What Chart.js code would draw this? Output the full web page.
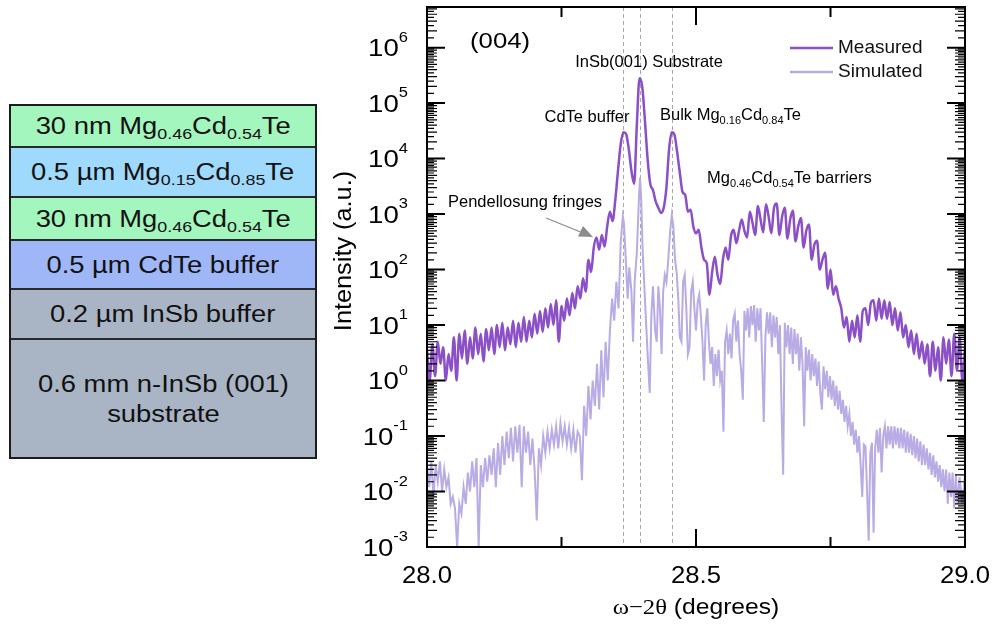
<!DOCTYPE html>
<html>
<head>
<meta charset="utf-8">
<script src="https://cdn.jsdelivr.net/npm/chart.js@4.4.1/dist/chart.umd.min.js"></script>
<style>
  html, body { margin: 0; padding: 0; background: #fff; }
  body { width: 993px; height: 628px; position: relative; overflow: hidden; font-family: "Liberation Sans", Arial, sans-serif; }
  #stack { position: absolute; left: 9px; top: 104px; width: 308px; height: 355px; border: 2px solid #1c1c1c; box-sizing: border-box; }
  .layer { position: absolute; left: 0; right: 0; display: flex; align-items: center; justify-content: center; border-bottom: 2px solid #2a2a2a; box-sizing: border-box; color: #111; font-size: 23px; line-height: 30px; text-align: center; }
  .layer span.t { display: inline-block; transform: scaleX(1.19); white-space: nowrap; }
  .layer sub { font-size: 15px; vertical-align: -5px; line-height: 0; }
  #chartBox { position: absolute; left: 330px; top: 0; width: 663px; height: 628px; }
</style>
</head>
<body>
<div id="stack">
  <div class="layer" style="top:0;height:42px;background:#a3f6bd"><span class="t">30 nm Mg<sub>0.46</sub>Cd<sub>0.54</sub>Te</span></div>
  <div class="layer" style="top:42px;height:50px;background:#9fd9fb"><span class="t">0.5 µm Mg<sub>0.15</sub>Cd<sub>0.85</sub>Te</span></div>
  <div class="layer" style="top:92px;height:43px;background:#a3f6bd"><span class="t">30 nm Mg<sub>0.46</sub>Cd<sub>0.54</sub>Te</span></div>
  <div class="layer" style="top:135px;height:49px;background:#9fb7f7"><span class="t">0.5 µm CdTe buffer</span></div>
  <div class="layer" style="top:184px;height:50px;background:#a9b4c4"><span class="t">0.2 µm InSb buffer</span></div>
  <div class="layer" style="top:234px;height:117px;background:#a9b4c4;border-bottom:none"><span class="t">0.6 mm n-InSb (001)<br>substrate</span></div>
</div>
<div id="chartBox"><canvas id="xrd"></canvas></div>
<script>
// ω-2θ scan (004)
const measX = [
  28.000, 28.005, 28.010, 28.015, 28.020, 28.025, 28.030, 28.035, 28.040, 28.045,
  28.050, 28.055, 28.060, 28.065, 28.070, 28.075, 28.080, 28.085, 28.090, 28.095,
  28.100, 28.105, 28.110, 28.115, 28.120, 28.125, 28.130, 28.135, 28.140, 28.145,
  28.150, 28.155, 28.160, 28.165, 28.170, 28.175, 28.180, 28.185, 28.190, 28.195,
  28.200, 28.205, 28.210, 28.215, 28.220, 28.225, 28.230, 28.235, 28.240, 28.245,
  28.250, 28.255, 28.260, 28.265, 28.270, 28.275, 28.280, 28.285, 28.290, 28.295,
  28.300, 28.305, 28.310, 28.315, 28.320, 28.325, 28.330, 28.335, 28.340, 28.345,
  28.350, 28.355, 28.360, 28.365, 28.370, 28.375, 28.380, 28.385, 28.390, 28.395,
  28.400, 28.405, 28.410, 28.415, 28.420, 28.425, 28.430, 28.435, 28.440, 28.445,
  28.450, 28.455, 28.460, 28.465, 28.470, 28.475, 28.480, 28.485, 28.490, 28.495,
  28.500, 28.505, 28.510, 28.515, 28.520, 28.525, 28.530, 28.535, 28.540, 28.545,
  28.550, 28.555, 28.560, 28.565, 28.570, 28.575, 28.580, 28.585, 28.590, 28.595,
  28.600, 28.605, 28.610, 28.615, 28.620, 28.625, 28.630, 28.635, 28.640, 28.645,
  28.650, 28.655, 28.660, 28.665, 28.670, 28.675, 28.680, 28.685, 28.690, 28.695,
  28.700, 28.705, 28.710, 28.715, 28.720, 28.725, 28.730, 28.735, 28.740, 28.745,
  28.750, 28.755, 28.760, 28.765, 28.770, 28.775, 28.780, 28.785, 28.790, 28.795,
  28.800, 28.805, 28.810, 28.815, 28.820, 28.825, 28.830, 28.835, 28.840, 28.845,
  28.850, 28.855, 28.860, 28.865, 28.870, 28.875, 28.880, 28.885, 28.890, 28.895,
  28.900, 28.905, 28.910, 28.915, 28.920, 28.925, 28.930, 28.935, 28.940, 28.945,
  28.950, 28.955, 28.960, 28.965, 28.970, 28.975, 28.980, 28.985, 28.990, 28.995,
  29.000
];
const measY = [
  3.5, 1.0, 4.5, 1.2, 5.0, 2.0, 4.0, 1.0, 3.0, 1.5,
  6.0, 1.0, 7.0, 2.5, 8.0, 2.0, 6.0, 2.5, 9.0, 3.0,
  7.0, 2.2, 8.5, 3.5, 9.0, 3.0, 10, 4.0, 11, 3.5,
  9, 4.5, 12, 4.0, 11, 5.0, 14, 5.0, 12, 6.0,
  16, 7.0, 18, 7.5, 20, 9, 24, 10, 28, 5,
  22, 12, 30, 15, 38, 20, 50, 30, 70, 40,
  150, 90, 250, 380, 230, 420, 260, 600, 1100, 750,
  1800, 6000, 18000, 30000, 28000, 15000, 6000, 3500, 40000, 280000,
  200000, 50000, 10000, 3500, 2700, 1700, 1300, 1050, 1300, 3000,
  15000, 30000, 27000, 13000, 5500, 2500, 2200, 1100, 1200, 600,
  450, 520, 250, 150, 130, 35, 90, 170, 80, 55,
  150, 250, 150, 400, 520, 300, 500, 800, 500, 380,
  1100, 700, 420, 1400, 800, 470, 1500, 900, 450, 1300,
  1550, 420, 900, 1300, 360, 800, 1150, 320, 600, 850,
  250, 500, 650, 150, 280, 330, 100, 150, 200, 45,
  100, 35, 50, 30, 20, 9, 14, 5, 12, 6,
  15, 5, 18, 20, 10, 25, 28, 12, 30, 13,
  28, 13, 26, 10, 20, 8, 17, 6, 10, 4,
  8, 3, 7, 2.5, 5, 2, 4.5, 1.2, 5, 1.5,
  4, 1.0, 6, 2, 5.5, 1.2, 7, 1.5, 6, 1,
  4
];
const simX = [
  28.000, 28.004, 28.008, 28.012, 28.016, 28.020, 28.024, 28.028, 28.032, 28.036,
  28.040, 28.044, 28.048, 28.052, 28.056, 28.060, 28.064, 28.068, 28.072, 28.076,
  28.080, 28.084, 28.088, 28.092, 28.096, 28.100, 28.104, 28.108, 28.112, 28.116,
  28.120, 28.124, 28.128, 28.132, 28.136, 28.140, 28.144, 28.148, 28.152, 28.156,
  28.160, 28.164, 28.168, 28.172, 28.176, 28.180, 28.184, 28.188, 28.192, 28.196,
  28.200, 28.204, 28.208, 28.212, 28.216, 28.220, 28.224, 28.228, 28.232, 28.236,
  28.240, 28.244, 28.248, 28.252, 28.256, 28.260, 28.264, 28.268, 28.272, 28.276,
  28.280, 28.284, 28.288, 28.292, 28.296, 28.300, 28.304, 28.308, 28.312, 28.316,
  28.320, 28.324, 28.328, 28.332, 28.336, 28.340, 28.344, 28.348, 28.352, 28.356,
  28.360, 28.364, 28.366, 28.370, 28.373, 28.376, 28.380, 28.383, 28.386, 28.390,
  28.394, 28.396, 28.398, 28.401, 28.404, 28.407, 28.411, 28.414, 28.417, 28.420,
  28.424, 28.427, 28.430, 28.433, 28.436, 28.439, 28.442, 28.445, 28.448, 28.452,
  28.455, 28.458, 28.461, 28.464, 28.467, 28.470, 28.473, 28.476, 28.479, 28.482,
  28.485, 28.488, 28.491, 28.494, 28.497, 28.500, 28.503, 28.506, 28.509, 28.512,
  28.515, 28.518, 28.521, 28.524, 28.527, 28.530, 28.533, 28.536, 28.539, 28.542,
  28.545, 28.548, 28.551, 28.554, 28.557, 28.560, 28.563, 28.566, 28.569, 28.572,
  28.575, 28.578, 28.581, 28.584, 28.587, 28.590, 28.593, 28.596, 28.599, 28.602,
  28.605, 28.608, 28.611, 28.614, 28.617, 28.620, 28.623, 28.626, 28.629, 28.632,
  28.635, 28.638, 28.641, 28.644, 28.647, 28.650, 28.653, 28.656, 28.659, 28.662,
  28.665, 28.668, 28.671, 28.674, 28.677, 28.680, 28.683, 28.686, 28.689, 28.692,
  28.695, 28.698, 28.701, 28.704, 28.707, 28.710, 28.713, 28.716, 28.719, 28.722,
  28.725, 28.728, 28.731, 28.734, 28.737, 28.740, 28.743, 28.746, 28.749, 28.752,
  28.755, 28.758, 28.761, 28.764, 28.767, 28.770, 28.773, 28.776, 28.779, 28.782,
  28.785, 28.788, 28.791, 28.794, 28.797, 28.800, 28.803, 28.806, 28.809, 28.812,
  28.815, 28.818, 28.821, 28.824, 28.827, 28.830, 28.833, 28.836, 28.839, 28.842,
  28.845, 28.848, 28.851, 28.854, 28.857, 28.860, 28.863, 28.866, 28.869, 28.872,
  28.875, 28.878, 28.881, 28.884, 28.887, 28.890, 28.893, 28.896, 28.899, 28.902,
  28.905, 28.908, 28.911, 28.914, 28.917, 28.920, 28.923, 28.926, 28.929, 28.932,
  28.935, 28.938, 28.941, 28.944, 28.947, 28.950, 28.953, 28.956, 28.959, 28.962,
  28.965, 28.968, 28.971, 28.974, 28.977, 28.980, 28.983, 28.986, 28.990, 28.995,
  29.000
];
const simY = [
  0.03, 0.012, 0.035, 0.008, 0.03, 0.015, 0.035, 0.01, 0.025, 0.012,
  0.018, 0.006, 0.008, 0.005, 0.001, 0.006, 0.004, 0.012, 0.006, 0.022,
  0.01, 0.035, 0.012, 0.04, 0.001, 0.03, 0.012, 0.04, 0.015, 0.045,
  0.02, 0.06, 0.012, 0.075, 0.02, 0.1, 0.03, 0.12, 0.04, 0.14,
  0.035, 0.15, 0.05, 0.16, 0.012, 0.15, 0.05, 0.12, 0.03, 0.09,
  0.025, 0.003, 0.06, 0.03, 0.1, 0.05, 0.12, 0.06, 0.13, 0.07,
  0.15, 0.06, 0.17, 0.08, 0.15, 0.07, 0.14, 0.06, 0.13, 0.05,
  0.12, 0.1, 0.016, 0.35, 0.1, 0.8, 0.2, 1.0, 0.35, 2.0,
  0.3, 3.5, 0.5, 5.0, 1.0, 8, 30, 12, 60, 20,
  300, 900, 700, 120, 30, 110, 40, 5, 60, 200,
  2000, 4500, 2000, 200, 50, 12, 2, 0.6, 15, 50,
  8, 5, 50, 20, 3, 40, 80, 60, 130, 500,
  950, 600, 150, 90, 30, 6, 5, 60, 80, 20,
  3, 4, 40, 60, 20, 8, 25, 35, 15, 5,
  1, 10, 20, 5, 2, 4, 0.8, 3, 1.2, 3.6,
  1.0, 1.5, 0.12, 5, 8, 3, 7, 2.5, 12, 16,
  5, 12, 3, 1.5, 0.45, 18, 8, 20, 6, 22,
  10, 23, 5, 20, 8, 20, 2, 0.18, 6, 17,
  7, 17, 4, 15, 6, 14, 3, 10, 0.3, 0.02,
  11, 4, 10, 3, 9, 2, 8.5, 3, 7, 1.5,
  6, 2, 0.15, 4, 1.5, 3.6, 1.0, 3, 1.2, 2.5,
  0.8, 2.2, 0.6, 0.3, 1.8, 0.7, 1.5, 0.5, 1.2, 0.45,
  1.0, 0.35, 0.8, 0.3, 0.65, 0.25, 0.45, 0.18, 0.35, 0.15,
  0.25, 0.1, 0.18, 0.07, 0.13, 0.05, 0.1, 0.03, 0.008, 0.07,
  0.065, 0.01, 0.0013, 0.05, 0.076, 0.0018, 0.06, 0.13, 0.05, 0.14,
  0.022, 0.1, 0.15, 0.06, 0.15, 0.07, 0.15, 0.06, 0.15, 0.07,
  0.14, 0.06, 0.14, 0.06, 0.13, 0.05, 0.12, 0.05, 0.11, 0.045,
  0.1, 0.04, 0.09, 0.035, 0.08, 0.03, 0.07, 0.03, 0.06, 0.025,
  0.05, 0.02, 0.045, 0.018, 0.035, 0.015, 0.03, 0.012, 0.025, 0.01,
  0.025, 0.006, 0.022, 0.008, 0.022, 0.005, 0.02, 0.006, 0.018, 0.006,
  0.02
];
// posiciones de las líneas punteadas (picos)
const peakLines = [28.364, 28.396, 28.456];
const xTickValues = [28.0, 28.25, 28.5, 28.75, 29.0];
const xTickLabels = ['28.0', '', '28.5', '', '29.0'];
const yDecades = [-3, -2, -1, 0, 1, 2, 3, 4, 5, 6];

const colMeas = '#8b4fc6';
const colSim = '#b9abe4';
const SANS = '"Liberation Sans", Arial, sans-serif';
const OFFSET_X = 330; // el canvas empieza en x=330 de la página

function toPoints(xs, ys) {
  return xs.map((x, i) => ({ x: x, y: ys[i] }));
}

// texto con escala horizontal
function txt(ctx, s, x, y, size, align, sx, family) {
  ctx.save();
  ctx.font = size + 'px ' + (family || SANS);
  ctx.textBaseline = 'middle';
  ctx.textAlign = 'left';
  const w = ctx.measureText(s).width * sx;
  let x0 = x;
  if (align === 'center') x0 = x - w / 2;
  if (align === 'right') x0 = x - w;
  ctx.translate(x0, y);
  ctx.scale(sx, 1);
  ctx.fillText(s, 0, 0);
  ctx.restore();
  return w;
}

// texto con subíndices: parts = [[texto, esSub], ...]
function richText(ctx, parts, x, y, size, subSize, align, sx) {
  ctx.save();
  let total = 0;
  parts.forEach(p => {
    ctx.font = (p[1] ? subSize : size) + 'px ' + SANS;
    total += ctx.measureText(p[0]).width * sx;
  });
  let cx = x;
  if (align === 'center') cx = x - total / 2;
  if (align === 'right') cx = x - total;
  parts.forEach(p => {
    const dy = p[1] ? size * 0.38 : 0;
    cx += txt(ctx, p[0], cx, y + dy, p[1] ? subSize : size, 'left', sx);
  });
  ctx.restore();
}

const decorPlugin = {
  id: 'decor',
  beforeDatasetsDraw(chart) {
    const { ctx, chartArea: a, scales: { x } } = chart;
    ctx.save();
    ctx.strokeStyle = '#a8a8a8';
    ctx.lineWidth = 1;
    ctx.setLineDash([4, 3]);
    peakLines.forEach(v => {
      const px = Math.round(x.getPixelForValue(v)) + 0.5;
      ctx.beginPath();
      ctx.moveTo(px, a.top);
      ctx.lineTo(px, a.bottom);
      ctx.stroke();
    });
    ctx.restore();
  },
  afterDraw(chart) {
    const { ctx, chartArea: a, scales: { x, y } } = chart;
    ctx.save();
    ctx.fillStyle = '#000';
    ctx.strokeStyle = '#000';

    // marco
    ctx.lineWidth = 2;
    ctx.strokeRect(a.left, a.top, a.right - a.left, a.bottom - a.top);

    // ticks eje Y (hacia dentro, ambos lados)
    yDecades.forEach(e => {
      const major = Math.pow(10, e);
      const py = y.getPixelForValue(major);
      ctx.lineWidth = 2;
      ctx.beginPath();
      ctx.moveTo(a.left, py); ctx.lineTo(a.left + 18, py);
      ctx.moveTo(a.right, py); ctx.lineTo(a.right - 18, py);
      ctx.stroke();
      ctx.lineWidth = 1.2;
      for (let k = 1.5; k < 10; k += 0.5) {
        const v = k * major;
        if (v > y.max) continue;
        const pm = y.getPixelForValue(v);
        const len = Number.isInteger(k) ? 10 : 7;
        ctx.beginPath();
        ctx.moveTo(a.left, pm); ctx.lineTo(a.left + len, pm);
        ctx.moveTo(a.right, pm); ctx.lineTo(a.right - len, pm);
        ctx.stroke();
      }
      // etiqueta 10^e
      const sup = String(e);
      ctx.font = '15px ' + SANS;
      const sw = ctx.measureText(sup).width * 1.1;
      const right = a.left - 19;
      txt(ctx, sup, right - sw, py - 10, 15, 'left', 1.1);
      txt(ctx, '10', right - sw, py + 2, 24, 'right', 1.15);
    });

    // ticks eje X
    ctx.lineWidth = 2;
    xTickValues.forEach((v, i) => {
      const px = x.getPixelForValue(v);
      const len = (v === 28.5) ? 18 : 10;
      if (v > 28 && v < 29) {
        ctx.beginPath();
        ctx.moveTo(px, a.bottom); ctx.lineTo(px, a.bottom - len);
        ctx.moveTo(px, a.top); ctx.lineTo(px, a.top + len);
        ctx.stroke();
      }
      if (xTickLabels[i]) txt(ctx, xTickLabels[i], px, a.bottom + 29, 24, 'center', 1.07);
    });

    // títulos de ejes
    ctx.save();
    ctx.translate(a.left - 82, 251);
    ctx.rotate(-Math.PI / 2);
    txt(ctx, 'Intensity (a.u.)', 0, 0, 23, 'center', 1.1);
    ctx.restore();
    {
      const cx = (a.left + a.right) / 2;
      const yy = a.bottom + 61;
      ctx.font = '22px "Liberation Serif", serif';
      const w1 = ctx.measureText('ω−2θ').width * 1.12;
      ctx.font = '22px ' + SANS;
      const w2 = ctx.measureText(' (degrees)').width * 1.12;
      const x0 = cx - (w1 + w2) / 2;
      txt(ctx, 'ω−2θ', x0, yy, 22, 'left', 1.12, '"Liberation Serif", serif');
      txt(ctx, ' (degrees)', x0 + w1, yy, 22, 'left', 1.12);
    }

    // anotaciones, en coordenadas de página
    ctx.translate(-OFFSET_X, 0);
    txt(ctx, '(004)', 470, 42, 22, 'left', 1.17);
    txt(ctx, 'InSb(001) Substrate', 649, 62, 16.5, 'center', 1.0);
    txt(ctx, 'CdTe buffer', 587, 117, 16.5, 'center', 1.0);
    richText(ctx, [['Bulk Mg', 0], ['0.16', 1], ['Cd', 0], ['0.84', 1], ['Te', 0]], 660, 115, 16.5, 11, 'left', 1.0);
    richText(ctx, [['Mg', 0], ['0.46', 1], ['Cd', 0], ['0.54', 1], ['Te barriers', 0]], 707, 178, 16.5, 11, 'left', 1.0);
    txt(ctx, 'Pendellosung fringes', 525, 202, 16.5, 'center', 1.0);

    // flecha
    ctx.strokeStyle = '#8c8c8c';
    ctx.fillStyle = '#8c8c8c';
    ctx.lineWidth = 1.3;
    ctx.beginPath();
    ctx.moveTo(546, 218); ctx.lineTo(583, 233);
    ctx.stroke();
    ctx.beginPath();
    ctx.moveTo(593, 237);
    ctx.lineTo(578, 236.5);
    ctx.lineTo(583, 226);
    ctx.closePath();
    ctx.fill();

    // leyenda
    ctx.lineWidth = 2.5;
    ctx.strokeStyle = colMeas;
    ctx.beginPath(); ctx.moveTo(790, 48); ctx.lineTo(833, 48); ctx.stroke();
    ctx.strokeStyle = colSim;
    ctx.beginPath(); ctx.moveTo(790, 72); ctx.lineTo(833, 72); ctx.stroke();
    ctx.fillStyle = '#111';
    txt(ctx, 'Measured', 838, 48, 19, 'left', 1.0);
    txt(ctx, 'Simulated', 838, 72, 19, 'left', 1.0);

    ctx.restore();
  }
};

const ctx = document.getElementById('xrd').getContext('2d');
new Chart(ctx, {
  type: 'line',
  data: {
    datasets: [
      { label: 'Measured', data: toPoints(measX, measY), borderColor: colMeas, borderWidth: 2.5, pointRadius: 0, cubicInterpolationMode: 'monotone', fill: false },
      { label: 'Simulated', data: toPoints(simX, simY), borderColor: colSim, borderWidth: 2, pointRadius: 0, tension: 0, fill: false }
    ]
  },
  options: {
    responsive: true,
    maintainAspectRatio: false,
    animation: false,
    layout: { padding: { left: 0, right: 28, top: 7, bottom: 0 } },
    plugins: { legend: { display: false }, tooltip: { enabled: false } },
    scales: {
      x: {
        type: 'linear', min: 28, max: 29,
        grid: { display: false }, border: { display: false },
        ticks: { display: false },
        afterFit(s) { s.height = 81; }
      },
      y: {
        type: 'logarithmic', min: 1e-3, max: 5.4e6,
        grid: { display: false }, border: { display: false },
        ticks: { display: false },
        afterFit(s) { s.width = 97; }
      }
    }
  },
  plugins: [decorPlugin]
});
</script>
</body>
</html>
